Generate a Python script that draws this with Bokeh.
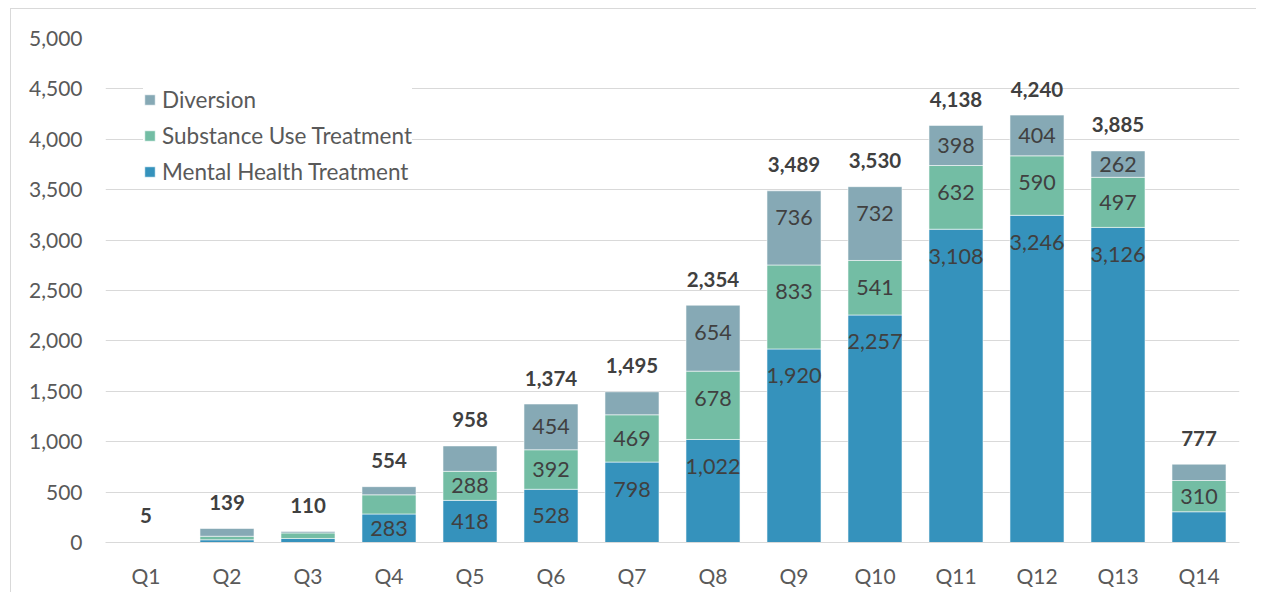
from bokeh.plotting import figure
from bokeh.models import (ColumnDataSource, FactorRange, Range1d, FixedTicker,
                          NumeralTickFormatter, Legend, LegendItem)
from bokeh.core.properties import value
from bokeh.embed import file_html
from bokeh.resources import INLINE

quarters = ["Q1", "Q2", "Q3", "Q4", "Q5", "Q6", "Q7", "Q8", "Q9", "Q10", "Q11", "Q12", "Q13", "Q14"]
mental = [5, 27, 40, 283, 418, 528, 798, 1022, 1920, 2257, 3108, 3246, 3126, 305]
substance = [0, 35, 55, 190, 288, 392, 469, 678, 833, 541, 632, 590, 497, 310]
diversion = [0, 77, 15, 81, 252, 454, 228, 654, 736, 732, 398, 404, 262, 162]
totals = [5, 139, 110, 554, 958, 1374, 1495, 2354, 3489, 3530, 4138, 4240, 3885, 777]
show_mental = [0, 0, 0, 1, 1, 1, 1, 1, 1, 1, 1, 1, 1, 0]
show_substance = [0, 0, 0, 0, 1, 1, 1, 1, 1, 1, 1, 1, 1, 1]
show_diversion = [0, 0, 0, 0, 0, 1, 0, 1, 1, 1, 1, 1, 1, 0]
series_names = ["Mental Health Treatment", "Substance Use Treatment", "Diversion"]
y_ticks = list(range(0, 5001, 500))

colors = ["#3592BC", "#73BDA4", "#86A9B5"]
FONT = "Lato"

Y_MAX = 5000
FRAME_H = 504

src = ColumnDataSource(dict(q=quarters, mental=mental, substance=substance, diversion=diversion))

p = figure(x_range=FactorRange(*quarters), y_range=Range1d(0, Y_MAX),
           width=1246, height=584, output_backend="svg", toolbar_location=None,
           min_border_left=94, min_border_right=18, min_border_top=29, min_border_bottom=51)
p.margin = (8, 0, 0, 10)
p.styles = {"border-left": "1px solid #d9d9d9", "border-top": "1px solid #d9d9d9"}
p.outline_line_color = None
p.background_fill_color = "white"

rs = p.vbar_stack(["mental", "substance", "diversion"], x="q", width=0.667, color=colors,
                  line_color="white", line_alpha=0.55, line_width=1, source=src)

# segment labels
inset = 27 * Y_MAX / FRAME_H
lx, ly, lt = [], [], []
series = [mental, substance, diversion]
shows = [show_mental, show_substance, show_diversion]
for i, q in enumerate(quarters):
    bottom = 0
    for vals, sh in zip(series, shows):
        v = vals[i]
        top = bottom + v
        if sh[i]:
            center = (bottom + top) / 2
            lx.append(q)
            ly.append(max(center, top - inset))
            lt.append(f"{v:,}")
        bottom = top
lsrc = ColumnDataSource(dict(x=lx, y=ly, t=lt))
p.text(x="x", y="y", text="t", source=lsrc, text_align="center", text_baseline="middle",
       text_font=value(FONT), text_font_size="21.5px", text_color="#404040")

tsrc = ColumnDataSource(dict(x=quarters, y=totals, t=[f"{v:,}" for v in totals]))
p.text(x="x", y="y", text="t", source=tsrc, text_align="center", text_baseline="middle",
       y_offset=-26, text_font=value(FONT), text_font_size="20.5px", text_font_style="bold",
       text_color="#404040")

# axes
p.yaxis.ticker = FixedTicker(ticks=y_ticks)
p.yaxis.formatter = NumeralTickFormatter(format="0,0")
p.yaxis.axis_line_color = None
p.yaxis.major_tick_line_color = None
p.yaxis.minor_tick_line_color = None
p.yaxis.major_tick_out = 0
p.yaxis.major_label_standoff = 23
p.yaxis.major_label_text_font = FONT
p.yaxis.major_label_text_font_size = "21px"
p.yaxis.major_label_text_color = "#595959"

p.xaxis.axis_line_color = "#d9d9d9"
p.xaxis.major_tick_line_color = None
p.xaxis.minor_tick_line_color = None
p.xaxis.major_tick_out = 0
p.xaxis.major_label_standoff = 20
p.xaxis.major_label_text_font = FONT
p.xaxis.major_label_text_font_size = "21px"
p.xaxis.major_label_text_color = "#595959"

p.xgrid.grid_line_color = None
p.ygrid.grid_line_color = "#d9d9d9"
p.ygrid.grid_line_width = 1

legend = Legend(items=[LegendItem(label=series_names[2], renderers=[rs[2]]),
                       LegendItem(label=series_names[1], renderers=[rs[1]]),
                       LegendItem(label=series_names[0], renderers=[rs[0]])],
                location=(38, 357))
legend.label_text_font = FONT
legend.label_text_font_size = "22.5px"
legend.label_text_color = "#595959"
legend.glyph_width = 13
legend.glyph_height = 13
legend.label_height = 22
legend.spacing = 9
legend.padding = 14
legend.label_standoff = 6
legend.border_line_color = None
legend.background_fill_color = "white"
legend.background_fill_alpha = 1
p.add_layout(legend)

open("out.html", "w").write(file_html(p, INLINE))
